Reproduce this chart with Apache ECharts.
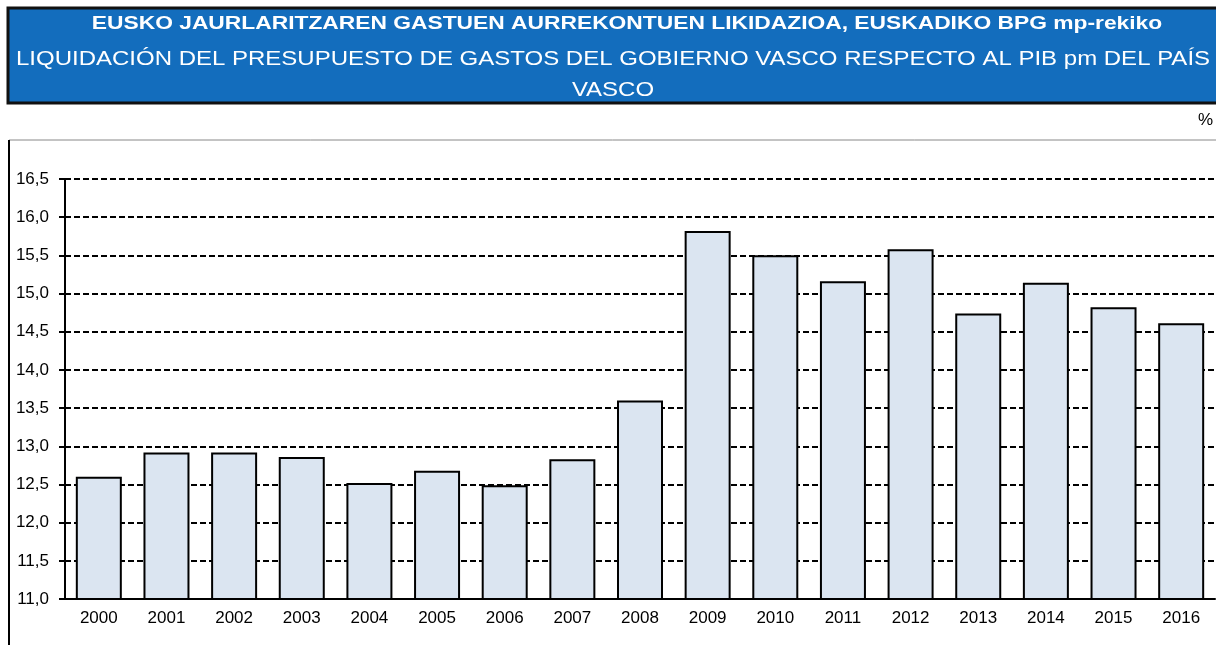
<!DOCTYPE html>
<html>
<head>
<meta charset="utf-8">
<script src="https://cdn.jsdelivr.net/npm/echarts@6/dist/echarts.min.js"></script>
<style>
  html, body { margin: 0; padding: 0; background: #fff; }
  #chart { width: 1216px; height: 645px; }
</style>
</head>
<body>
<div id="chart"></div>
<script>
const years = ['2000', '2001', '2002', '2003', '2004', '2005', '2006', '2007', '2008',
  '2009', '2010', '2011', '2012', '2013', '2014', '2015', '2016'];
const gastoPib = [12.60, 12.92, 12.92, 12.86, 12.52, 12.68, 12.49, 12.83, 13.60,
  15.82, 15.50, 15.16, 15.58, 14.74, 15.14, 14.82, 14.61];
const titleEu = 'EUSKO JAURLARITZAREN GASTUEN AURREKONTUEN LIKIDAZIOA, EUSKADIKO BPG mp-rekiko';
const titleEs1 = 'LIQUIDACIÓN DEL PRESUPUESTO DE GASTOS DEL GOBIERNO VASCO RESPECTO AL PIB pm DEL PAÍS';
const titleEs2 = 'VASCO';
const unitLabel = '%';

let chart = echarts.init(document.getElementById('chart'));

let option = {
  backgroundColor: '#fff',
  animation: false,
  grid: { left: 65, right: 1, top: 179, bottom: 46 },
  graphic: [
    // title box
    { type: 'rect', z: 0, shape: { x: 8, y: 8, width: 1210, height: 95 },
      style: { fill: '#136dbd', stroke: '#111', lineWidth: 3 } },
    // text in the original is wider than Liberation Sans, so stretch it a bit
    { type: 'text', z: 5, x: 627, y: 14, scaleX: 1.2,
      style: { text: titleEu, fill: '#fff', align: 'center', font: 'bold 19px "Liberation Sans", Arial, sans-serif' } },
    { type: 'text', z: 5, x: 613, y: 49, scaleX: 1.2,
      style: { text: titleEs1, fill: '#fff', align: 'center', font: '20px "Liberation Sans", Arial, sans-serif' } },
    { type: 'text', z: 5, x: 613, y: 80, scaleX: 1.2,
      style: { text: titleEs2, fill: '#fff', align: 'center', font: '20px "Liberation Sans", Arial, sans-serif' } },
    { type: 'text', z: 5, x: 1213, y: 112,
      style: { text: unitLabel, fill: '#000', align: 'right', font: '17px "Liberation Sans", Arial, sans-serif' } },
    // chart frame
    { type: 'line', z: 0, shape: { x1: 9, y1: 140, x2: 1216, y2: 140 },
      style: { stroke: '#888', lineWidth: 1 } },
    { type: 'line', z: 0, shape: { x1: 9, y1: 140, x2: 9, y2: 645 },
      style: { stroke: '#000', lineWidth: 2 } }
  ],
  xAxis: {
    type: 'category',
    data: years,
    axisLine: { lineStyle: { color: '#000', width: 2 } },
    axisTick: { show: false },
    axisLabel: { color: '#000', fontSize: 17, margin: 11, fontFamily: 'Liberation Sans' }
  },
  yAxis: {
    type: 'value',
    min: 11,
    max: 16.5,
    interval: 0.5,
    axisLine: { show: true, lineStyle: { color: '#000', width: 2 } },
    axisTick: { show: true, length: 6, lineStyle: { color: '#000', width: 2 } },
    axisLabel: {
      color: '#000', fontSize: 17, margin: 16, fontFamily: 'Liberation Sans',
      formatter: v => v.toFixed(1).replace('.', ',')
    },
    splitLine: { lineStyle: { color: '#000', width: 2, type: [6, 3] } }
  },
  series: [{
    type: 'bar',
    data: gastoPib,
    barWidth: '68%',
    itemStyle: { color: '#dbe5f1', borderColor: '#000', borderWidth: 2 }
  }]
};

chart.setOption(option);
</script>
</body>
</html>
